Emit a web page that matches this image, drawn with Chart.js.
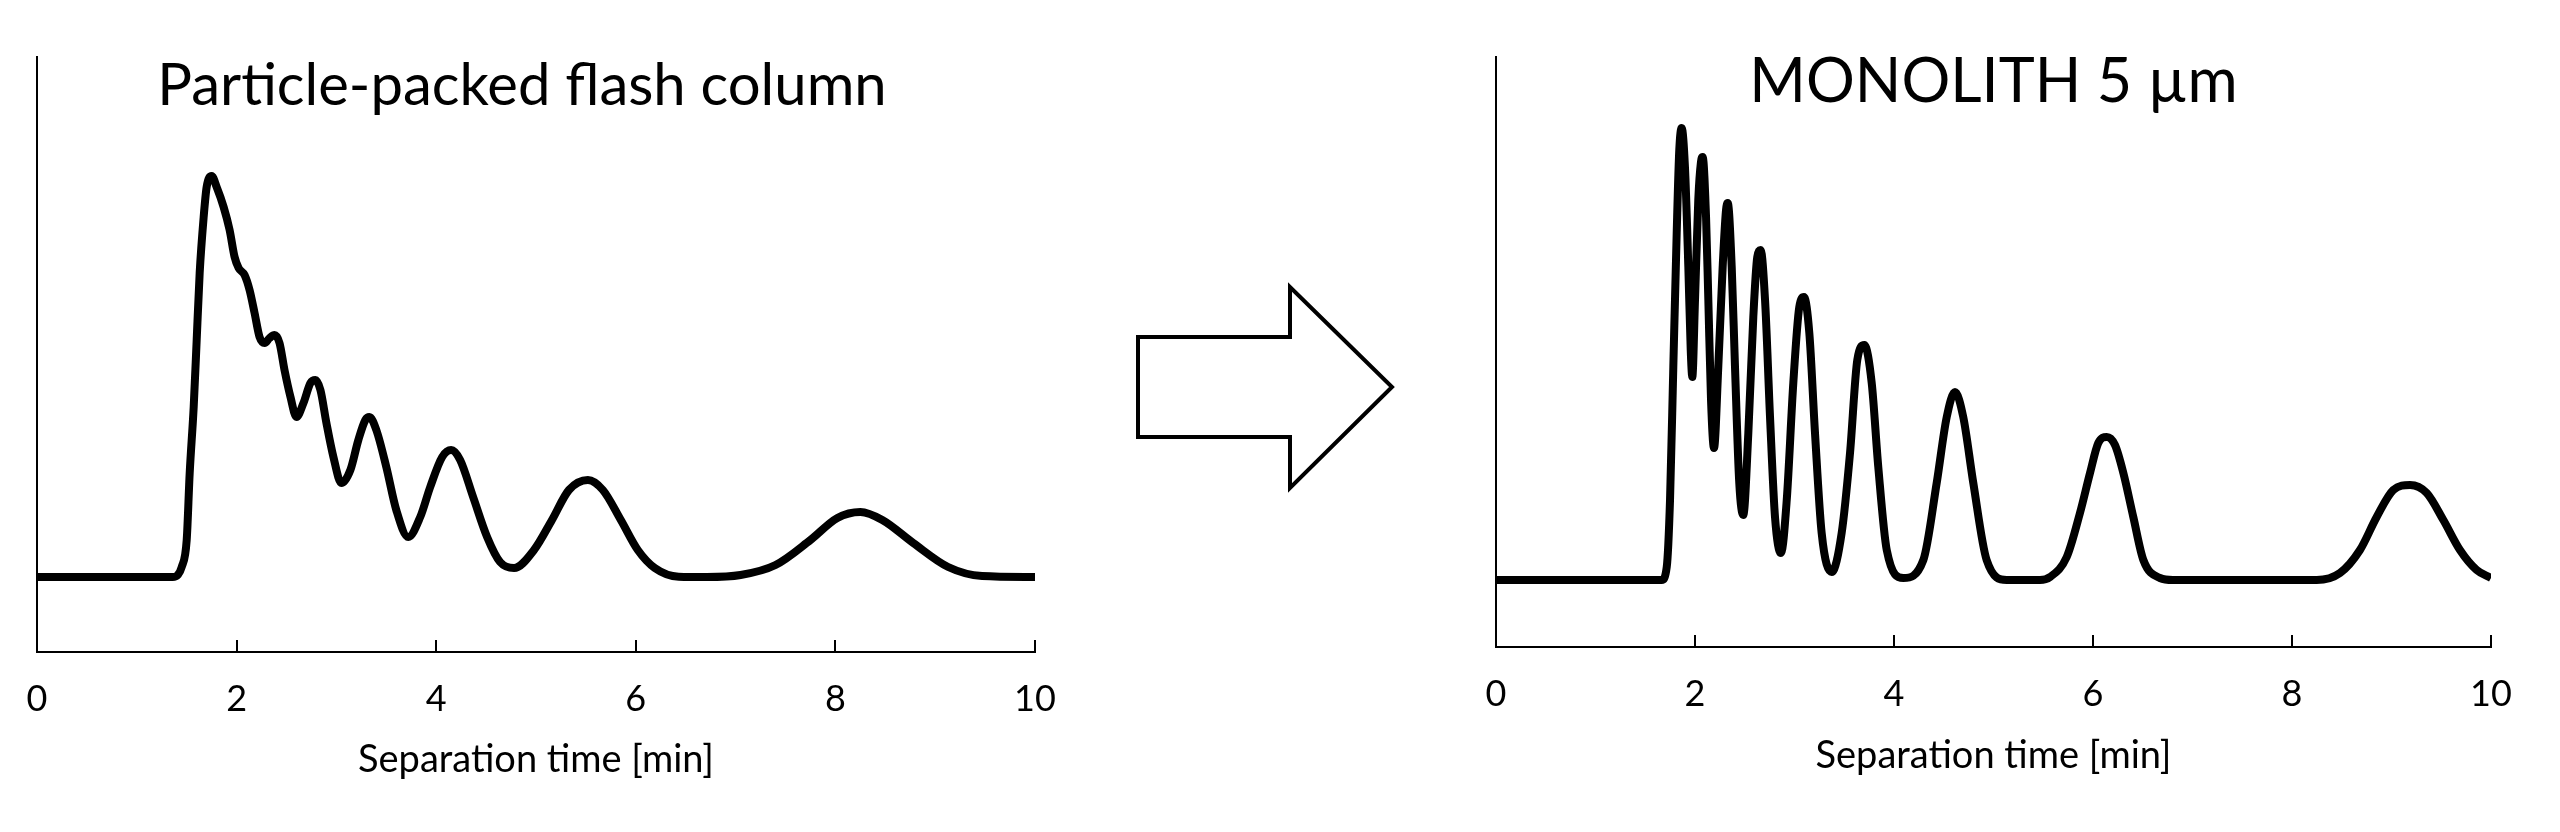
<!DOCTYPE html>
<html>
<head>
<meta charset="utf-8">
<script src="https://cdn.jsdelivr.net/npm/chart.js@4.4.1/dist/chart.umd.min.js"></script>
<style>
  html, body { margin: 0; padding: 0; background: #fff; }
  body { width: 2560px; height: 832px; position: relative; overflow: hidden; }
  canvas { position: absolute; top: 0; }
  #flashChart { left: 0; }
  #monoChart { left: 1280px; }
  #arrow { position: absolute; left: 0; top: 0; }
</style>
</head>
<body>
<canvas id="flashChart" width="1280" height="832"></canvas>
<canvas id="monoChart" width="1280" height="832"></canvas>
<svg id="arrow" width="2560" height="832">
  <polygon points="1138,337 1290,337 1290,287 1392,387 1290,488 1290,437 1138,437"
           fill="#fff" stroke="#000" stroke-width="4" stroke-linejoin="miter"/>
</svg>
<script>
const FONT = 'Lato, "Open Sans", sans-serif';

const xTicks = [0, 2, 4, 6, 8, 10];
const axisTitle = 'Separation time [min]';
const flashTitle = 'Particle-packed flash column';
const monoTitle = 'MONOLITH 5 µm';

// particle-packed column trace (time in min, signal above baseline)
const flashTime = [0, 1.36, 1.41, 1.45, 1.50, 1.53, 1.57, 1.60, 1.63, 1.67, 1.70,
  1.75, 1.80, 1.87, 1.93, 1.98, 2.02, 2.08, 2.13, 2.18, 2.23,
  2.28, 2.33, 2.38, 2.43, 2.48, 2.54, 2.60, 2.67, 2.74, 2.79,
  2.84, 2.90, 2.97, 3.05, 3.14, 3.22, 3.29, 3.33, 3.40, 3.50,
  3.60, 3.72, 3.84, 3.94, 4.06, 4.15, 4.24, 4.37, 4.51, 4.64,
  4.78, 4.98, 5.16, 5.33, 5.52, 5.67, 5.85, 6.02, 6.19, 6.43,
  6.71, 7.05, 7.40, 7.75, 8.02, 8.25, 8.47, 8.78, 9.13, 9.47, 10.0];
const flashSignal = [0, 0, 2, 10, 37, 104, 170, 237, 304, 360, 390,
  401, 390, 370, 347, 320, 309, 302, 287, 264, 240,
  234, 239, 242, 234, 207, 180, 160, 174, 194, 197,
  187, 154, 120, 94, 107, 137, 157, 160, 147, 110,
  67, 40, 60, 90, 120, 127, 117, 80, 40, 15,
  9, 27, 57, 87, 97, 87, 57, 27, 9, 0.3,
  0, 2, 12, 37, 59, 65, 57, 34, 10, 1, 0];

// monolith column trace
const monoTime = [0, 1.665, 1.716, 1.749, 1.782, 1.816, 1.842, 1.866, 1.899, 1.933,
  1.957, 1.973, 2.000, 2.033, 2.060, 2.077, 2.111, 2.134, 2.161, 2.191,
  2.234, 2.278, 2.312, 2.329, 2.369, 2.402, 2.445, 2.485, 2.536, 2.586,
  2.626, 2.660, 2.704, 2.754, 2.804, 2.864, 2.922, 2.988, 3.048, 3.095,
  3.149, 3.206, 3.273, 3.374, 3.474, 3.558, 3.631, 3.702, 3.776, 3.842,
  3.927, 4.094, 4.295, 4.429, 4.530, 4.613, 4.696, 4.797, 4.931, 5.133,
  5.467, 5.568, 5.736, 5.869, 5.970, 6.053, 6.138, 6.221, 6.305, 6.405,
  6.506, 6.673, 6.804, 8.248, 8.482, 8.683, 8.851, 9.018, 9.186, 9.354,
  9.521, 9.688, 9.856, 10.0];
const monoSignal = [0, 0, 13, 80, 213, 347, 430, 452, 413, 313,
  230, 203, 280, 380, 418, 423, 363, 280, 180, 132,
  213, 313, 370, 377, 313, 213, 97, 65, 147, 263,
  323, 330, 280, 163, 63, 27, 80, 197, 273, 283,
  247, 147, 47, 8, 47, 127, 220, 235, 197, 113,
  30, 2, 20, 97, 163, 188, 163, 97, 20, 0,
  0, 3, 23, 67, 107, 137, 143, 135, 107, 63,
  20, 2, 0, 0, 7, 30, 63, 90, 95, 87,
  60, 30, 10, 2];

function toPoints(times, values) {
    return times.map((t, i) => ({ x: t, y: values[i] }));
}

// tick marks pointing up into the plot, like the original
const innerTicks = {
    id: 'innerTicks',
    afterDraw(chart) {
        const xScale = chart.scales.x;
        const ctx = chart.ctx;
        const bottom = chart.chartArea.bottom;
        ctx.save();
        ctx.strokeStyle = '#000';
        ctx.lineWidth = 2;
        xScale.ticks.forEach(tick => {
            const px = Math.round(xScale.getPixelForValue(tick.value));
            ctx.beginPath();
            ctx.moveTo(px, bottom);
            ctx.lineTo(px, bottom - 12);
            ctx.stroke();
        });
        ctx.restore();
    }
};

// title sits inside the plot area
const panelTitle = {
    id: 'panelTitle',
    afterDraw(chart, args, opts) {
        const area = chart.chartArea;
        const ctx = chart.ctx;
        ctx.save();
        ctx.font = opts.size + 'px ' + FONT;
        ctx.fillStyle = '#000';
        ctx.textAlign = 'center';
        ctx.textBaseline = 'alphabetic';
        ctx.fillText(opts.text, (area.left + area.right) / 2 + opts.offsetX, opts.baseline);
        ctx.restore();
    }
};

function makeChart(id, times, values, cfg) {
    const ctx = document.getElementById(id).getContext('2d');
    return new Chart(ctx, {
        type: 'line',
        data: {
            datasets: [{
                data: toPoints(times, values),
                borderColor: '#000',
                borderWidth: 8,
                pointRadius: 0,
                fill: false,
                cubicInterpolationMode: 'monotone',
                borderCapStyle: 'butt',
                borderJoinStyle: 'round'
            }]
        },
        options: {
            responsive: false,
            animation: false,
            layout: {
                padding: { left: cfg.left, right: cfg.right, top: 57, bottom: 0 }
            },
            plugins: {
                legend: { display: false },
                tooltip: { enabled: false },
                panelTitle: { text: cfg.title, size: cfg.titleSize, offsetX: cfg.titleOffsetX, baseline: cfg.titleBaseline }
            },
            scales: {
                x: {
                    type: 'linear',
                    min: 0,
                    max: 10,
                    afterBuildTicks: scale => { scale.ticks = xTicks.map(v => ({ value: v })); },
                    afterFit: scale => { scale.height = cfg.xHeight; },
                    grid: { display: false, drawTicks: false },
                    border: { display: true, color: '#000', width: 2 },
                    ticks: {
                        color: '#000',
                        padding: 26,
                        maxRotation: 0,
                        autoSkip: false,
                        font: { family: FONT, size: 36 }
                    },
                    title: {
                        display: true,
                        text: axisTitle,
                        color: '#000',
                        font: { family: FONT, size: 38 },
                        padding: { top: 0, bottom: cfg.axisTitlePad }
                    }
                },
                y: {
                    min: cfg.yMin,
                    max: cfg.yMax,
                    afterFit: scale => { scale.width = 0; },
                    grid: { display: false, drawTicks: false },
                    border: { display: true, color: '#000', width: 2 },
                    ticks: { display: false }
                }
            }
        },
        plugins: [innerTicks, panelTitle]
    });
}

makeChart('flashChart', flashTime, flashSignal, {
    left: 37, right: 245, xHeight: 180, yMin: -75, yMax: 520,
    title: flashTitle, titleSize: 58, titleOffsetX: -14, titleBaseline: 105, axisTitlePad: 49
});

makeChart('monoChart', monoTime, monoSignal, {
    left: 216, right: 69, xHeight: 185, yMin: -67, yMax: 523,
    title: monoTitle, titleSize: 61, titleOffsetX: 0, titleBaseline: 102, axisTitlePad: 53
});
</script>
</body>
</html>
